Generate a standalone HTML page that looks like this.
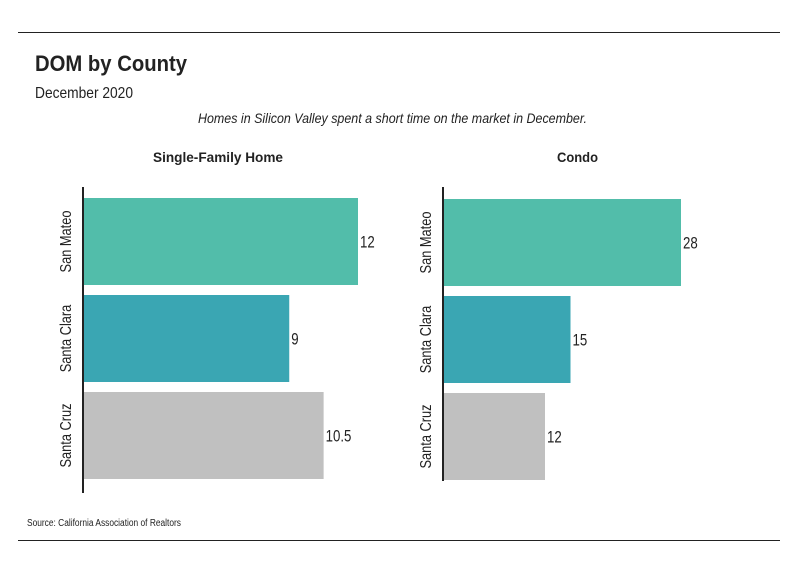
<!DOCTYPE html>
<html><head><meta charset="utf-8"><style>
body{margin:0;background:#fff;}
svg text{font-family:"Liberation Sans Narrow","Liberation Sans",sans-serif;fill:#222;}
</style></head><body>
<svg width="799" height="575" xmlns="http://www.w3.org/2000/svg">
<line x1="18" y1="32.5" x2="780" y2="32.5" stroke="#222" stroke-width="1"/>
<line x1="18" y1="540.5" x2="780" y2="540.5" stroke="#222" stroke-width="1"/>
<text x="35" y="71" font-size="22" font-weight="bold" fill="#333" textLength="152" lengthAdjust="spacingAndGlyphs">DOM by County</text>
<text x="35" y="98" font-size="16" textLength="98" lengthAdjust="spacingAndGlyphs">December 2020</text>
<text x="198" y="123" font-size="14" font-style="italic" textLength="389" lengthAdjust="spacingAndGlyphs">Homes in Silicon Valley spent a short time on the market in December.</text>
<text x="153" y="162" font-size="14" font-weight="bold" textLength="130" lengthAdjust="spacingAndGlyphs">Single-Family Home</text>
<text x="557" y="162" font-size="14" font-weight="bold" textLength="41" lengthAdjust="spacingAndGlyphs">Condo</text>
<text x="27" y="526" font-size="10" textLength="154" lengthAdjust="spacingAndGlyphs">Source:  California Association of Realtors</text>
<g id="panels"></g>
</svg>
<script>
const categories=["San Mateo","Santa Clara","Santa Cruz"];
const sfhValues=[12,9,10.5];
const sfhLabels=["12","9","10.5"];
const condoValues=[28,15,12];
const condoLabels=["28","15","12"];
const colors=["#52bdaa","#3aa6b3","#c0c0c0"];
const NS="http://www.w3.org/2000/svg";
const g=document.getElementById('panels');
function mk(t,a){const e=document.createElementNS(NS,t);for(const k in a)e.setAttribute(k,a[k]);g.appendChild(e);return e;}
function squeeze(e,f){const w=e.getComputedTextLength();e.setAttribute('textLength',w*f);e.setAttribute('lengthAdjust','spacingAndGlyphs');}
function panel(name,x0,top,scale,vals,labels,axisBottom){
  const xs=v=>x0+v*scale;
  const band=97,bh=87;
  vals.forEach((v,i)=>{
    const y=top+i*band;
    const r=mk('rect',{x:x0,y:y,width:xs(v)-x0,height:bh,fill:colors[i]});
    
    
    const t=mk('text',{x:xs(v)+2,y:y+bh/2+6,'font-size':17});
    t.textContent=labels[i];
    
    
    squeeze(t,0.78);
    const c=mk('text',{transform:`translate(${x0-12},${y+bh/2}) rotate(-90)`,'text-anchor':'middle','font-size':16});
    c.textContent=categories[i];
    
    
    squeeze(c,0.8);
  });
  const l=mk('line',{x1:x0,y1:187,x2:x0,y2:axisBottom,stroke:'#222','stroke-width':2});
  
  
}
panel('sfh',83,198,275/12,sfhValues,sfhLabels,493);
panel('condo',443,199,238/28,condoValues,condoLabels,481);
</script>
</body></html>
